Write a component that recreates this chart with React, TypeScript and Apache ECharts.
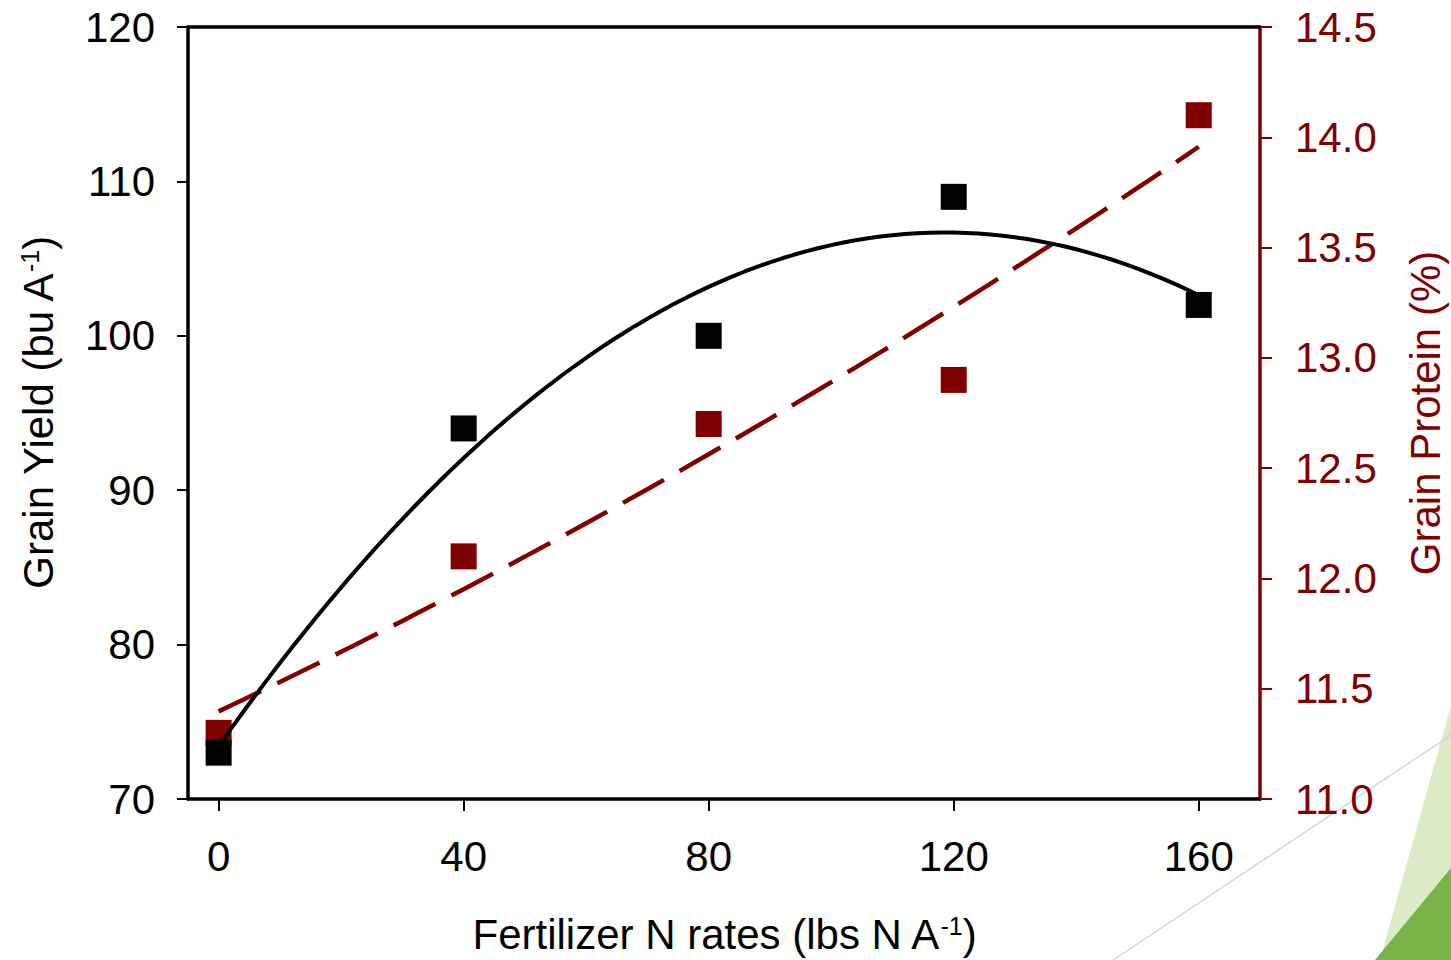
import React, { useEffect, useRef } from "react";
import * as echarts from "echarts";

// ---- data ----
const nRates = [0, 40, 80, 120, 160];
const grainYield = [73, 94, 100, 109, 102];
const grainProtein = [11.3, 12.1, 12.7, 12.9, 14.1];
const xTicks = [0, 40, 80, 120, 160];

const DARK_RED = "#800000";
const FONT = "'Liberation Sans', Arial, Helvetica, sans-serif";

// least-squares quadratic trend line (y = a + b x + c x^2) from the data
function quadFit(xs: number[], ys: number[]): number[] {
  const S = [0, 0, 0, 0, 0];
  const T = [0, 0, 0];
  xs.forEach((x, i) => {
    for (let k = 0; k < 5; k++) S[k] += Math.pow(x, k);
    for (let k = 0; k < 3; k++) T[k] += ys[i] * Math.pow(x, k);
  });
  const M = [
    [S[0], S[1], S[2], T[0]],
    [S[1], S[2], S[3], T[1]],
    [S[2], S[3], S[4], T[2]],
  ];
  for (let c = 0; c < 3; c++) {
    let p = c;
    for (let r = c + 1; r < 3; r++) if (Math.abs(M[r][c]) > Math.abs(M[p][c])) p = r;
    [M[c], M[p]] = [M[p], M[c]];
    for (let r = 0; r < 3; r++) {
      if (r === c) continue;
      const f = M[r][c] / M[c][c];
      for (let k = c; k < 4; k++) M[r][k] -= f * M[c][k];
    }
  }
  return [M[0][3] / M[0][0], M[1][3] / M[1][1], M[2][3] / M[2][2]];
}

function trendPoints(xs: number[], ys: number[]): number[][] {
  const [a, b, c] = quadFit(xs, ys);
  const out: number[][] = [];
  const x0 = xs[0];
  const x1 = xs[xs.length - 1];
  for (let x = x0; x <= x1; x += 2) out.push([x, a + b * x + c * x * x]);
  return out;
}

export default function App() {
  const ref = useRef<HTMLDivElement>(null);

  useEffect(() => {
    if (!ref.current) return;
    const chart = echarts.init(ref.current, undefined, { renderer: "svg" });

    const yieldPts = nRates.map((x, i) => [x, grainYield[i]]);
    const proteinPts = nRates.map((x, i) => [x, grainProtein[i]]);

    const supStyle = (color: string) => ({
      fontSize: 25,
      fontFamily: FONT,
      color,
      verticalAlign: "top",
      lineHeight: 25,
    });

    const option: any = {
      animation: false,
      backgroundColor: "#ffffff",
      grid: {
        left: 188,
        right: 191,
        top: 27,
        bottom: 161,
        containLabel: false,
        outerBoundsMode: "none",
      },
      xAxis: [
        {
          type: "value",
          position: "bottom",
          min: -5,
          max: 170,
          splitLine: { show: false },
          axisLine: { onZero: false, lineStyle: { color: "#000", width: 3.5 } },
          axisTick: {
            show: true,
            customValues: xTicks,
            length: 12,
            lineStyle: { color: "#000", width: 2 },
          },
          axisLabel: {
            customValues: xTicks,
            fontSize: 42,
            fontFamily: FONT,
            color: "#000",
            margin: 36,
          },
          name: "Fertilizer N rates (lbs N A{sup|-1})",
          nameLocation: "middle",
          nameGap: 114,
          nameTextStyle: {
            fontSize: 42,
            fontFamily: FONT,
            color: "#000",
            rich: { sup: supStyle("#000") },
          },
        },
        {
          type: "value",
          position: "top",
          min: -5,
          max: 170,
          splitLine: { show: false },
          axisLine: { onZero: false, lineStyle: { color: "#000", width: 3.5 } },
          axisTick: { show: false },
          axisLabel: { show: false },
        },
      ],
      yAxis: [
        {
          type: "value",
          position: "left",
          min: 70,
          max: 120,
          interval: 10,
          splitLine: { show: false },
          axisLine: { show: true, onZero: false, lineStyle: { color: "#000", width: 3.5 } },
          axisTick: { show: true, length: 11, lineStyle: { color: "#000", width: 2 } },
          axisLabel: { fontSize: 42, fontFamily: FONT, color: "#000", margin: 33 },
          name: "Grain Yield (bu A{sup|-1})",
          nameLocation: "middle",
          nameRotate: 90,
          nameGap: 129,
          nameTextStyle: {
            fontSize: 42,
            fontFamily: FONT,
            color: "#000",
            rich: { sup: supStyle("#000") },
          },
        },
        {
          type: "value",
          position: "right",
          min: 11,
          max: 14.5,
          interval: 0.5,
          splitLine: { show: false },
          axisLine: { show: true, onZero: false, lineStyle: { color: DARK_RED, width: 3.5 } },
          axisTick: { show: true, length: 12, lineStyle: { color: DARK_RED, width: 2 } },
          axisLabel: {
            fontSize: 42,
            fontFamily: FONT,
            color: DARK_RED,
            margin: 35,
            formatter: (v: number) => v.toFixed(1),
          },
          name: "Grain Protein (%)",
          nameLocation: "middle",
          nameRotate: 90,
          nameGap: 144,
          nameTextStyle: { fontSize: 42, fontFamily: FONT, color: DARK_RED },
        },
      ],
      series: [
        {
          name: "Protein",
          type: "scatter",
          yAxisIndex: 1,
          symbol: "rect",
          symbolSize: 26,
          itemStyle: { color: DARK_RED, opacity: 1 },
          data: proteinPts,
          z: 2,
        },
        {
          name: "Protein trend",
          type: "line",
          yAxisIndex: 1,
          showSymbol: false,
          symbol: "none",
          lineStyle: { color: DARK_RED, width: 4.5, type: [47, 18] },
          data: trendPoints(nRates, grainProtein),
          z: 3,
        },
        {
          name: "Yield",
          type: "scatter",
          yAxisIndex: 0,
          symbol: "rect",
          symbolSize: 26,
          itemStyle: { color: "#000", opacity: 1 },
          data: yieldPts,
          z: 4,
        },
        {
          name: "Yield trend",
          type: "line",
          yAxisIndex: 0,
          showSymbol: false,
          symbol: "none",
          lineStyle: { color: "#000", width: 4 },
          data: trendPoints(nRates, grainYield),
          z: 5,
        },
      ],
      graphic: [
        {
          type: "polygon",
          z: -1,
          silent: true,
          shape: { points: [[1451, 705], [1380, 960], [1451, 960]] },
          style: { fill: "#dcebc6" },
        },
        {
          type: "polygon",
          z: -1,
          silent: true,
          shape: { points: [[1451, 868], [1375, 960], [1451, 960]] },
          style: { fill: "#7ab348" },
        },
        {
          type: "line",
          z: -1,
          silent: true,
          shape: { x1: 1113, y1: 960, x2: 1451, y2: 735 },
          style: { stroke: "#cfcfcf", lineWidth: 1.2 },
        },
      ],
    };

    chart.setOption(option);
    return () => chart.dispose();
  }, []);

  return (
    <div
      ref={ref}
      style={{ position: "absolute", left: 0, top: 0, width: 1451, height: 960 }}
    />
  );
}
